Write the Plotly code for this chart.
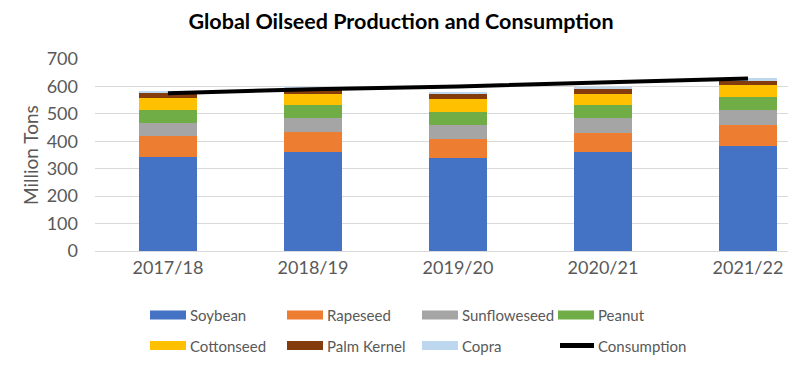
import plotly.graph_objects as go

years = ["2017/18", "2018/19", "2019/20", "2020/21", "2021/22"]
soybean = [343, 360, 338, 361, 382]
rapeseed = [75, 73, 71, 71, 76]
sunflowerseed = [49, 52, 51, 53, 55]
peanut = [46, 46, 48, 46, 50]
cottonseed = [45, 43, 47, 43, 42]
palm_kernel = [20, 19, 19, 19, 18]
copra = [6, 6, 5, 5, 6]
consumption = [575, 590, 600, 613, 629]

series_names = ["Soybean", "Rapeseed", "Sunfloweseed", "Peanut",
                "Cottonseed", "Palm Kernel", "Copra"]
series_values = [soybean, rapeseed, sunflowerseed, peanut,
                 cottonseed, palm_kernel, copra]
series_colors = ["#4472C4", "#ED7D31", "#A5A5A5", "#70AD47",
                 "#FFC000", "#843C0C", "#BDD7EE"]
line_name = "Consumption"

FONT = "Lato"
TXT = "#595959"

fig = go.Figure()
for name, vals, col in zip(series_names, series_values, series_colors):
    fig.add_trace(go.Bar(x=years, y=vals, name=name, marker_color=col,
                         marker_line_width=0, showlegend=False))
fig.add_trace(go.Scatter(x=years, y=consumption, name=line_name, mode="lines",
                         line=dict(color="black", width=4), showlegend=False))

# page offset (body margin) and page-pixel layout
OFF = 8
W, H = 800 - OFF, 373 - OFF
L, R, T, B = 95 - OFF, 788 - OFF, 59 - OFF, 251 - OFF
def px(x):
    x -= OFF
    return (x - L) / (R - L)
def py(y):
    y -= OFF
    return (B - y) / (B - T)

# manual legend (Excel style wide swatches), page pixel positions
col_x = [150, 287, 422, 558]
row_y = [315, 345.5]
legend_items = [(n, c, "bar") for n, c in zip(series_names, series_colors)] + [(line_name, "black", "line")]
shapes = []
annotations = []
for i, (name, col, kind) in enumerate(legend_items):
    x0 = col_x[i % 4]
    yc = row_y[i // 4]
    if kind == "bar":
        shapes.append(dict(type="rect", xref="paper", yref="paper",
                           x0=px(x0), x1=px(x0 + 36), y0=py(yc + 4.5), y1=py(yc - 4.5),
                           fillcolor=col, line_width=0))
    else:
        shapes.append(dict(type="line", xref="paper", yref="paper",
                           x0=px(x0 + 2), x1=px(x0 + 36), y0=py(yc), y1=py(yc),
                           line=dict(color=col, width=5)))
    annotations.append(dict(text=name, xref="paper", yref="paper",
                            x=px(x0 + 38), y=py(yc), xanchor="left", yanchor="middle",
                            showarrow=False, font=dict(family=FONT, size=15, color=TXT)))

annotations.append(dict(text="Million Tons", xref="paper", yref="paper",
                        x=px(30), y=py(155), textangle=-90, xanchor="center", yanchor="middle",
                        showarrow=False, font=dict(family=FONT, size=19, color=TXT)))

fig.update_layout(
    width=W, height=H,
    margin=dict(l=L, r=W - R, t=T, b=H - B, autoexpand=False),
    paper_bgcolor="white", plot_bgcolor="white",
    barmode="stack", bargap=0.6,
    title=dict(text="<b>Global Oilseed Production and Consumption</b>",
               x=(401 - OFF) / W, xref="container", xanchor="center",
               y=1 - (21 - OFF) / H, yref="container", yanchor="middle",
               font=dict(family=FONT, size=21.5, color="#000000")),
    xaxis=dict(range=[-0.503, 4.276], showgrid=False, showline=False, ticks="",
               tickfont=dict(family=FONT, size=18, color=TXT), ticklabelstandoff=4),
    yaxis=dict(range=[0, 700], dtick=100, showgrid=True, gridcolor="#D9D9D9", gridwidth=1,
               zeroline=True, zerolinecolor="#D9D9D9", zerolinewidth=1, showline=False,
               ticks="", tickfont=dict(family=FONT, size=18, color=TXT), ticklabelstandoff=16),
    shapes=shapes,
    annotations=annotations,
    showlegend=False,
)

fig.write_html("out.html")
